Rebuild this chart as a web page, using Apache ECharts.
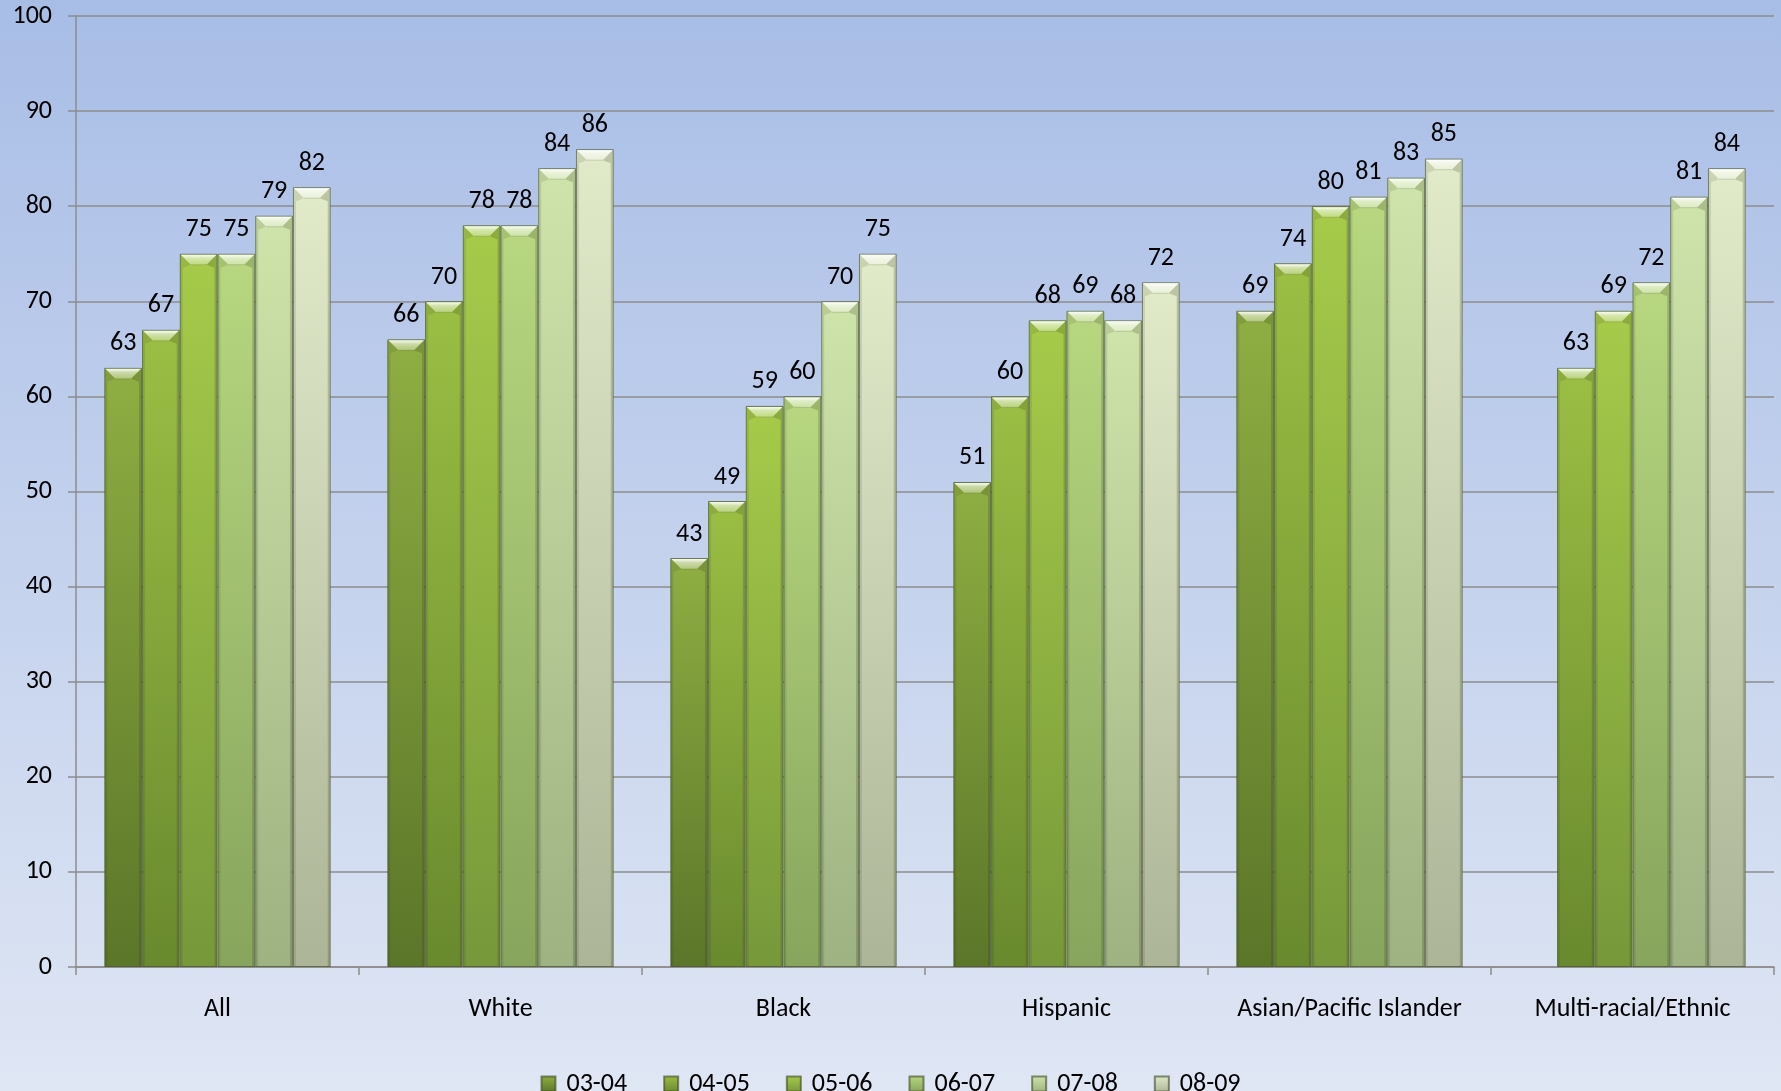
<!DOCTYPE html>
<html>
<head>
<meta charset="utf-8">
<title>Graduation rates by group</title>
<script src="https://cdn.jsdelivr.net/npm/echarts@6/dist/echarts.min.js"></script>
<style>
  html, body { margin: 0; padding: 0; background: #c4d2ec; }
  #chart { width: 1781px; height: 1091px; }
</style>
</head>
<body>
<div id="chart"></div>
<script>
// Groups along the category axis
const groups = ['All', 'White', 'Black', 'Hispanic', 'Asian/Pacific Islander', 'Multi-racial/Ethnic'];

// School years (one bar series each)
const years = ['03-04', '04-05', '05-06', '06-07', '07-08', '08-09'];

// Values per school year, in the order of `groups`
const y0304 = [63, 66, 43, 51, 69, null];
const y0405 = [67, 70, 49, 60, 74, 63];
const y0506 = [75, 78, 59, 68, 80, 69];
const y0607 = [75, 78, 60, 69, 81, 72];
const y0708 = [79, 84, 70, 68, 83, 81];
const y0809 = [82, 86, 75, 72, 85, 84];

// Value axis ticks
const yMin = 0;
const yMax = 100;
const yStep = 10;

const seriesValues = [y0304, y0405, y0506, y0607, y0708, y0809];

// Top / bottom shade of each year's bar fill
const barShades = [
  ['#8fae42', '#5b7629'],
  ['#9bbf44', '#69892e'],
  ['#a6cb4a', '#77983a'],
  ['#b8d780', '#87a55c'],
  ['#cfe4aa', '#9eb282'],
  ['#e1ebca', '#acb597']
];

const FONT = 'Carlito, Calibri, Lato, sans-serif';
const FS = 26;
const CAT_GAP = 0.2;           // share of each band left empty
const chart = echarts.init(document.getElementById('chart'), null, { renderer: 'canvas' });

const barSeries = years.map((yr, i) => ({
  name: yr,
  type: 'bar',
  data: seriesValues[i],
  barGap: '0%',
  barCategoryGap: (CAT_GAP * 100) + '%',
  z: 2,
  itemStyle: {
    color: new echarts.graphic.LinearGradient(0, 0, 0, 1, [
      { offset: 0, color: barShades[i][0] },
      { offset: 1, color: barShades[i][1] }
    ]),
    borderColor: 'rgba(58,68,30,0.6)',
    borderWidth: 1
  },
  label: {
    show: true,
    position: 'top',
    distance: 11,
    color: '#000',
    fontFamily: FONT,
    fontSize: FS
  }
}));

// Bevel highlights drawn on top of every bar, positioned from the same values
const capData = [];
seriesValues.forEach((arr, s) => {
  arr.forEach((v, c) => { if (v != null) capData.push([c, v, s]); });
});

const capSeries = {
  type: 'custom',
  name: 'bevel',
  silent: true,
  z: 3,
  data: capData,
  encode: { x: 0, y: 1 },
  renderItem: function (params, api) {
    const c = api.value(0), v = api.value(1), s = api.value(2);
    const top = api.coord([c, v]);
    const base = api.coord([c, 0]);
    const band = api.size([1, 0])[0];
    const bw = band * (1 - CAT_GAP) / years.length;
    const x0 = top[0] - band * (1 - CAT_GAP) / 2 + s * bw;
    const x1 = x0 + bw;
    const y0 = top[1];
    const yb = base[1];
    const b = 11, side = 3;
    return {
      type: 'group',
      children: [
        {
          type: 'polygon',
          shape: { points: [[x0 + 1, y0 + 1], [x1 - 1, y0 + 1], [x1 - b, y0 + b], [x0 + b, y0 + b]] },
          style: {
            fill: new echarts.graphic.LinearGradient(0, 0, 0, 1, [
              { offset: 0, color: 'rgba(255,255,255,0.95)' },
              { offset: 0.35, color: 'rgba(255,255,255,0.55)' },
              { offset: 1, color: 'rgba(255,255,255,0.3)' }
            ])
          }
        },
        {
          type: 'polygon',
          shape: { points: [[x0 + 1, y0 + 1], [x0 + b, y0 + b], [x0 + side, y0 + b + 3], [x0 + side, yb - 1], [x0 + 1, yb - 1]] },
          style: { fill: 'rgba(40,50,20,0.12)' }
        },
        {
          type: 'polygon',
          shape: { points: [[x1 - 1, y0 + 1], [x1 - b, y0 + b], [x1 - side, y0 + b + 3], [x1 - side, yb - 1], [x1 - 1, yb - 1]] },
          style: { fill: 'rgba(40,50,20,0.2)' }
        },
        {
          type: 'line',
          shape: { x1: x0 + b, y1: y0 + b, x2: x1 - b, y2: y0 + b },
          style: { stroke: 'rgba(60,70,30,0.2)', lineWidth: 1 }
        }
      ]
    };
  }
};

chart.setOption({
  animation: false,
  backgroundColor: new echarts.graphic.LinearGradient(0, 0, 0, 1, [
    { offset: 0, color: '#a8bde6' },
    { offset: 1, color: '#dfe6f4' }
  ]),
  textStyle: { fontFamily: FONT },
  grid: { left: 76, right: 7, top: 16, bottom: 124, containLabel: false },
  legend: {
    data: years,
    top: 1066,
    left: 'center',
    itemWidth: 14,
    itemHeight: 15,
    itemGap: 36,
    icon: 'rect',
    textStyle: { fontFamily: FONT, fontSize: FS, color: '#000', padding: [0, 0, 0, 6] }
  },
  xAxis: {
    type: 'category',
    data: groups,
    axisLine: { show: true, lineStyle: { color: '#8c8c8c', width: 1.5 } },
    axisTick: { show: true, interval: 0, length: 8, lineStyle: { color: '#8c8c8c', width: 1.5 } },
    axisLabel: { interval: 0, hideOverlap: false, color: '#000', fontFamily: FONT, fontSize: FS, margin: 29 },
    splitLine: { show: false }
  },
  yAxis: {
    type: 'value',
    min: yMin,
    max: yMax,
    interval: yStep,
    axisLine: { show: true, lineStyle: { color: '#8c8c8c', width: 1.5 } },
    axisTick: { show: true, length: 8, lineStyle: { color: '#8c8c8c', width: 1.5 } },
    axisLabel: { color: '#000', fontFamily: FONT, fontSize: FS, margin: 24 },
    splitLine: { show: true, lineStyle: { color: '#8c8c8c', width: 1.5 } }
  },
  series: barSeries.concat([capSeries])
});
</script>
</body>
</html>
